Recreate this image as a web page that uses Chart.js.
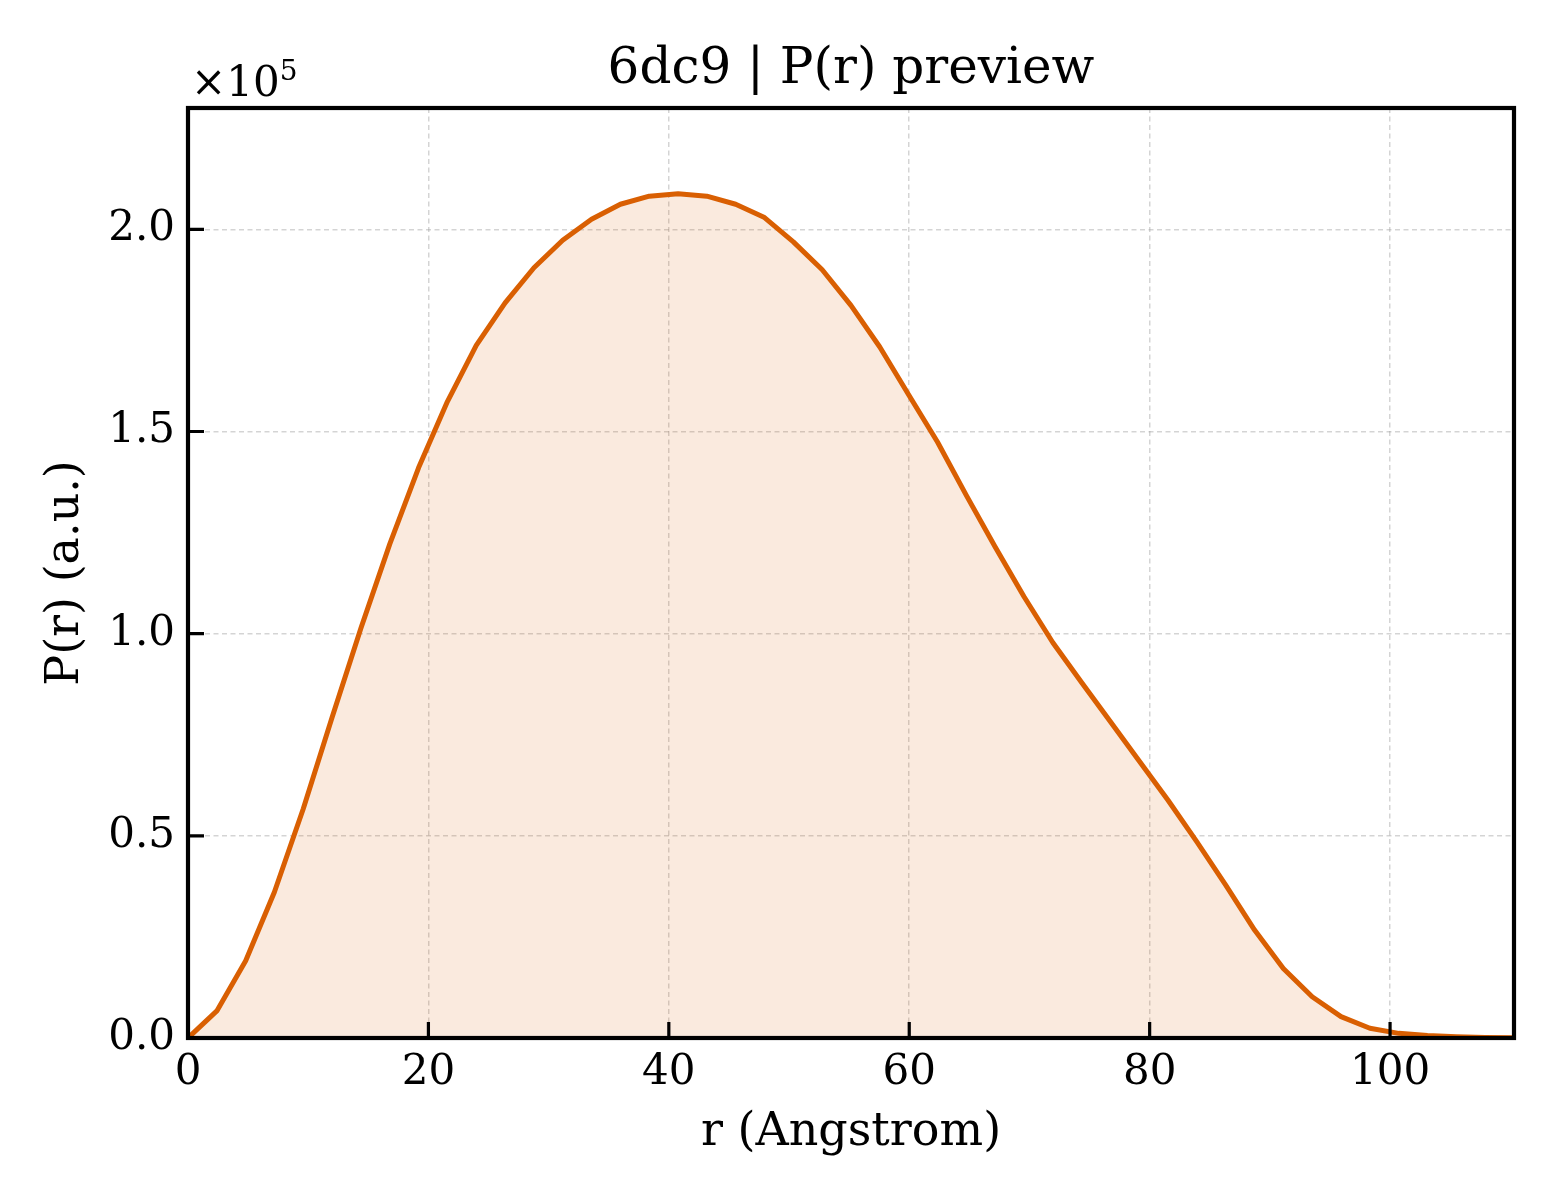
<!DOCTYPE html>
<html>
<head>
<meta charset="utf-8">
<script src="https://cdn.jsdelivr.net/npm/chart.js@4/dist/chart.umd.min.js"></script>
<style>
  html, body { margin: 0; padding: 0; background: #fff; }
  canvas { display: block; }
</style>
</head>
<body>
<canvas id="prChart" width="1560" height="1200"></canvas>
<script>
const rValues = [0.00, 2.40, 4.80, 7.19, 9.59, 11.99, 14.39, 16.79, 19.18, 21.58,
  23.98, 26.38, 28.78, 31.17, 33.57, 35.97, 38.37, 40.77, 43.16, 45.56,
  47.96, 50.36, 52.76, 55.15, 57.55, 59.95, 62.35, 64.75, 67.14, 69.54,
  71.94, 74.34, 76.74, 79.13, 81.53, 83.93, 86.33, 88.73, 91.12, 93.52,
  95.92, 98.32, 100.72, 103.11, 105.51, 107.91, 110.31];
const pValues = [0, 6700, 19100, 36100, 56700, 79300, 101400, 122200, 141000, 157400,
  171300, 181800, 190500, 197300, 202500, 206200, 208200, 208800, 208200, 206200,
  202900, 196900, 190000, 181200, 170900, 159100, 147400, 134200, 121500, 109200,
  97800, 87900, 78200, 68500, 58800, 48500, 37800, 26700, 17200, 10200,
  5300, 2400, 1150, 600, 300, 150, 50];

const xTicks = [0, 20, 40, 60, 80, 100];
const yTicks = [0, 50000, 100000, 150000, 200000];
const xMax = 110.31;
const yMax = 230000;
const titleText = '6dc9 | P(r) preview';

const lineColor = '#d95f02';
const serif = '"DejaVu Serif", "Liberation Serif", serif';

Chart.defaults.font.family = serif;
Chart.defaults.color = '#000';

// title over the plot box, inward ticks, black frame and the x10^5 offset label
const framePlugin = {
  id: 'frame',
  afterDraw(chart) {
    const { ctx, chartArea: a, scales: { x, y } } = chart;
    ctx.save();
    ctx.strokeStyle = '#000';
    ctx.lineWidth = 3.2;
    ctx.beginPath();
    xTicks.forEach(v => {
      const px = x.getPixelForValue(v);
      ctx.moveTo(px, a.bottom);
      ctx.lineTo(px, a.bottom - 16);
    });
    yTicks.forEach(v => {
      const py = y.getPixelForValue(v);
      ctx.moveTo(a.left, py);
      ctx.lineTo(a.left + 16, py);
    });
    ctx.stroke();

    ctx.lineWidth = 4.2;
    ctx.strokeRect(a.left, a.top, a.right - a.left, a.bottom - a.top);

    ctx.fillStyle = '#000';
    ctx.textAlign = 'center';
    ctx.textBaseline = 'middle';
    ctx.font = '50px ' + serif;
    ctx.fillText(titleText, (a.left + a.right) / 2, 70);

    ctx.textAlign = 'left';
    ctx.textBaseline = 'alphabetic';
    ctx.font = '42px ' + serif;
    ctx.fillText('\u00d710', a.left + 3, 96);
    const w = ctx.measureText('\u00d710').width;
    ctx.font = '28px ' + serif;
    ctx.fillText('5', a.left + 3 + w, 80);
    ctx.restore();
  }
};

const ctx = document.getElementById('prChart').getContext('2d');
const prChart = new Chart(ctx, {
  type: 'line',
  data: {
    datasets: [{
      data: rValues.map((r, i) => ({ x: r, y: pValues[i] })),
      borderColor: lineColor,
      backgroundColor: 'rgba(217,95,2,0.13)',
      borderWidth: 5,
      borderJoinStyle: 'round',
      fill: 'origin',
      tension: 0,
      pointRadius: 0
    }]
  },
  options: {
    responsive: false,
    animation: false,
    devicePixelRatio: 1,
    layout: { padding: { left: 0, right: 46, top: 108, bottom: 0 } },
    plugins: {
      legend: { display: false },
      tooltip: { enabled: false },
      title: { display: false }
    },
    scales: {
      x: {
        type: 'linear',
        min: 0,
        max: xMax,
        afterBuildTicks: s => { s.ticks = xTicks.map(v => ({ value: v })); },
        afterFit: s => { s.height = 162; },
        ticks: { autoSkip: false, maxRotation: 0, padding: 10, font: { size: 42 }, color: '#000' },
        grid: { color: 'rgba(160,160,160,0.45)', lineWidth: 1.5, drawTicks: false },
        border: { display: false, dash: [5, 3.5] },
        title: {
          display: true,
          text: 'r (Angstrom)',
          color: '#000',
          font: { size: 46, lineHeight: 1.2 },
          padding: { top: 0, bottom: 39 }
        }
      },
      y: {
        type: 'linear',
        min: 0,
        max: yMax,
        afterBuildTicks: s => { s.ticks = yTicks.map(v => ({ value: v })); },
        afterFit: s => { s.width = 188; },
        ticks: {
          padding: 13,
          font: { size: 42 },
          color: '#000',
          callback: v => (v / 1e5).toFixed(1)
        },
        grid: { color: 'rgba(160,160,160,0.45)', lineWidth: 1.5, drawTicks: false },
        border: { display: false, dash: [5, 3.5] },
        title: {
          display: true,
          text: 'P(r) (a.u.)',
          color: '#000',
          font: { size: 46, lineHeight: 1.2 },
          padding: { top: 38, bottom: 0 }
        }
      }
    }
  },
  plugins: [framePlugin]
});
</script>
</body>
</html>
